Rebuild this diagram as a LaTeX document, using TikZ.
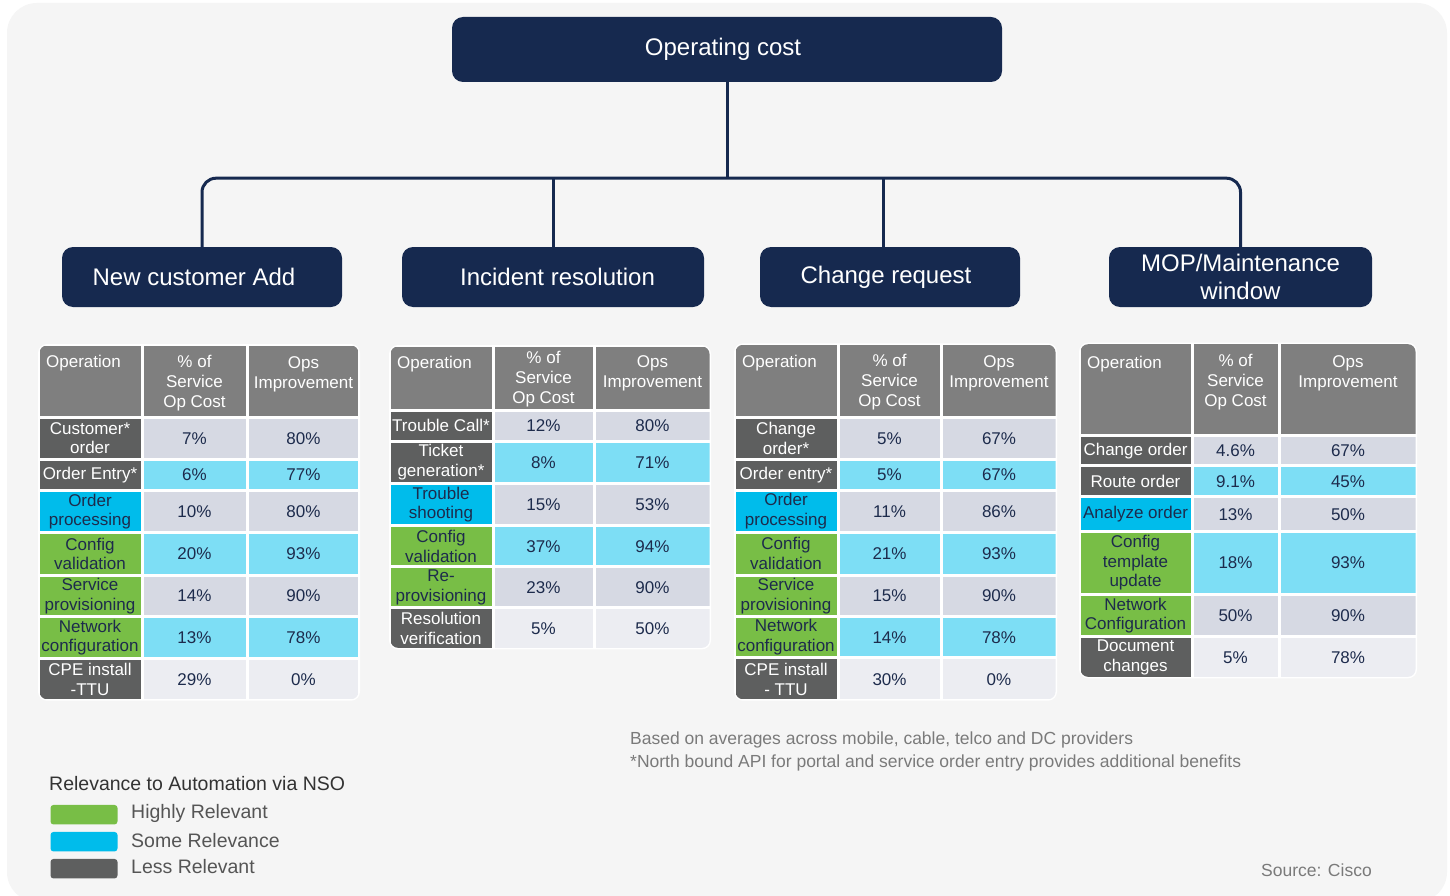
\documentclass[tikz,border=0pt]{standalone}
\usepackage{fontspec}
\setmainfont{Liberation Sans}
\usetikzlibrary{calc}
\definecolor{navy}{HTML}{16294F}
\definecolor{hgray}{HTML}{7F7F7F}
\definecolor{dgray}{HTML}{5E5F5F}
\definecolor{cblue}{HTML}{00BCEB}
\definecolor{cgreen}{HTML}{78BE46}
\definecolor{dgb}{HTML}{D6D9E3}
\definecolor{dcy}{HTML}{7DDEF5}
\definecolor{dlt}{HTML}{ECEDF2}
\definecolor{ntext}{HTML}{1D2B4C}
\definecolor{bgpanel}{HTML}{F5F5F5}
\definecolor{legtxt}{HTML}{333333}
\definecolor{leglab}{HTML}{555555}
\definecolor{notetxt}{HTML}{7A7A7A}
\newcommand{\tabfont}{\fontsize{17}{19.5}\selectfont}
\newcommand{\hfont}{\fontsize{17}{20}\selectfont}
% row: name, ya, yb, opstyle, optext, datafill, v1, v2
\newcommand{\trow}[8]{%
  \node[cellbox, #4, minimum width={\tXb-\tXa-3}, minimum height={#3-#2-3}] (#1op) at ({(\tXa+\tXb)/2},{(#2+#3)/2}) {#5};
  \node[cellbox, text=ntext, fill=#6, minimum width={\tXc-\tXb-3}, minimum height={#3-#2-3}] (#1a) at ({(\tXb+\tXc)/2},{(#2+#3)/2}) {#7};
  \node[cellbox, text=ntext, fill=#6, minimum width={\tXd-\tXc-3}, minimum height={#3-#2-3}] (#1b) at ({(\tXc+\tXd)/2},{(#2+#3)/2}) {#8};
}
% header: name, ya, yb, op offset, pct offset, ops offset
\newcommand{\thead}[6]{%
  \node[cellbox, fill=hgray, minimum width={\tXb-\tXa-3}, minimum height={#3-#2-3}] (#1op) at ({(\tXa+\tXb)/2},{(#2+#3)/2}) {};
  \node[cellbox, fill=hgray, minimum width={\tXc-\tXb-3}, minimum height={#3-#2-3}] (#1a) at ({(\tXb+\tXc)/2},{(#2+#3)/2}) {};
  \node[cellbox, fill=hgray, minimum width={\tXd-\tXc-3}, minimum height={#3-#2-3}] (#1b) at ({(\tXc+\tXd)/2},{(#2+#3)/2}) {};
  \node[htext, anchor=north west] (#1opt) at ({\tXa+8},{#2+#4}) {Operation};
  \node[htext, anchor=north] (#1at) at ({(\tXb+\tXc)/2},{#2+#5}) {\% of\\Service\\Op Cost};
  \node[htext, anchor=north] (#1bt) at ({(\tXc+\tXd)/2},{#2+#6}) {Ops\\Improvement};
}
\begin{document}
\begin{tikzpicture}[x=1pt,y=-1pt,
  topbox/.style={rectangle, rounded corners=11, fill=navy, text=white, inner sep=0, align=center, font=\fontsize{24}{28}\selectfont},
  conn/.style={draw=navy, line width=3pt},
  cellbox/.style={rectangle, inner sep=0, align=center, font=\tabfont},
  htext/.style={inner sep=0, align=center, font=\hfont, text=white},
  opless/.style={fill=dgray, text=white},
  opsome/.style={fill=cblue, text=ntext},
  ophigh/.style={fill=cgreen, text=ntext},
  swatch/.style={rectangle, rounded corners=3, inner sep=0, minimum width=67, minimum height=19.5},
  leglabel/.style={anchor=west, inner sep=0, text=leglab, font=\fontsize{19.5}{22}\selectfont},
  note/.style={anchor=west, inner sep=0, text=notetxt, font=\fontsize{17.5}{20}\selectfont}
]
\useasboundingbox (0,0) rectangle (1450,896);
\fill[white] (0,0) rectangle (1450,896);
\fill[bgpanel, rounded corners=30] (7,3) rectangle (1447,902);

% top level boxes
\node[topbox, minimum width=550, minimum height=65] (root) at (727,49.5) {Operating cost\hspace*{8pt}};
\node[topbox, minimum width=280, minimum height=60] (c1) at (202,277) {New customer Add\hspace*{16pt}};
\node[topbox, minimum width=302, minimum height=60] (c2) at (553,277) {\hspace*{9pt}Incident resolution};
\node[topbox, minimum width=260, minimum height=60] (c3) at (890,277) {Change request\hspace*{8pt}};
\node[topbox, minimum width=263, minimum height=60] (c4) at (1240.5,277) {MOP/Maintenance\\window};

% connectors
\draw[conn] (root.south) -- ++(0,96) coordinate (hub);
\draw[conn, rounded corners=14] (c1.north) |- (hub) -| (c4.north);
\draw[conn] (c2.north) -- (c2.north |- hub);
\draw[conn] ([xshift=-7pt]c3.north) -- ([xshift=-7pt]c3.north |- hub);

% ---------- Table 1 ----------
\def\tXa{38}\def\tXb{142}\def\tXc{247}\def\tXd{360}
\fill[white, rounded corners=9] (38,344) rectangle (360,700.7);
\begin{scope}
\clip[rounded corners=7.5] (39.5,345.5) rectangle (358.5,699.2);
\thead{ta}{344}{417}{11}{11}{12}
\trow{taa}{417}{459.3}{opless}{Customer*\\order}{dgb}{7\%}{80\%}
\trow{tab}{459.3}{490.7}{opless}{Order Entry*}{dcy}{6\%}{77\%}
\trow{tac}{490.7}{532.7}{opsome}{Order\\processing}{dgb}{10\%}{80\%}
\trow{tad}{532.7}{575.3}{ophigh}{Config\\validation}{dcy}{20\%}{93\%}
\trow{tae}{575.3}{616.7}{ophigh}{Service\\provisioning}{dgb}{14\%}{90\%}
\trow{taf}{616.7}{658.3}{ophigh}{Network\\configuration}{dcy}{13\%}{78\%}
\trow{tag}{658.3}{700.7}{opless}{CPE install\\-TTU}{dlt}{29\%}{0\%}
\end{scope}

% ---------- Table 2 ----------
\def\tXa{389}\def\tXb{493}\def\tXc{594}\def\tXd{711}
\fill[white, rounded corners=9] (389,345) rectangle (711,649.3);
\begin{scope}
\clip[rounded corners=7.5] (390.5,346.5) rectangle (709.5,647.8);
\thead{tb}{345}{410.7}{11}{6}{10}
\trow{tba}{410.7}{441}{opless}{Trouble Call*}{dgb}{12\%}{80\%}
\trow{tbb}{441}{483.3}{opless}{Ticket\\generation*}{dcy}{8\%}{71\%}
\trow{tbc}{483.3}{525.7}{opsome}{Trouble\\shooting}{dgb}{15\%}{53\%}
\trow{tbd}{525.7}{566.7}{ophigh}{Config\\validation}{dcy}{37\%}{94\%}
\trow{tbe}{566.7}{607.7}{ophigh}{Re-\\provisioning}{dgb}{23\%}{90\%}
\trow{tbf}{607.7}{649.3}{opless}{Resolution\\verification}{dlt}{5\%}{50\%}
\end{scope}

% ---------- Table 3 ----------
\def\tXa{734}\def\tXb{838}\def\tXc{941}\def\tXd{1057}
\fill[white, rounded corners=9] (734,343.3) rectangle (1057,700.7);
\begin{scope}
\clip[rounded corners=7.5] (735.5,344.8) rectangle (1055.5,699.2);
\thead{tc}{343.3}{417.3}{12}{11}{12}
\trow{tca}{417.3}{459.3}{opless}{Change\\order*}{dgb}{5\%}{67\%}
\trow{tcb}{459.3}{490}{opless}{Order entry*}{dcy}{5\%}{67\%}
\trow{tcc}{490}{532.3}{opsome}{Order\\processing}{dgb}{11\%}{86\%}
\trow{tcd}{532.3}{575}{ophigh}{Config\\validation}{dcy}{21\%}{93\%}
\trow{tce}{575}{616.7}{ophigh}{Service\\provisioning}{dgb}{15\%}{90\%}
\trow{tcf}{616.7}{657.7}{ophigh}{Network\\configuration}{dcy}{14\%}{78\%}
\trow{tcg}{657.7}{700.7}{opless}{CPE install\\- TTU}{dlt}{30\%}{0\%}
\end{scope}

% ---------- Table 4 ----------
\def\tXa{1079}\def\tXb{1192}\def\tXc{1279}\def\tXd{1417}
\fill[white, rounded corners=9] (1079,342.7) rectangle (1417,678.3);
\begin{scope}
\clip[rounded corners=7.5] (1080.5,344.2) rectangle (1415.5,676.8);
\thead{td}{342.7}{435.7}{13}{11}{13}
\trow{tda}{435.7}{465.7}{opless}{Change order}{dgb}{4.6\%}{67\%}
\trow{tdb}{465.7}{496.7}{opless}{Route order}{dcy}{9.1\%}{45\%}
\trow{tdc}{496.7}{531.7}{opsome}{Analyze order}{dgb}{13\%}{50\%}
\trow{tdd}{531.7}{594}{ophigh}{Config\\template\\update}{dcy}{18\%}{93\%}
\trow{tde}{594}{636.7}{ophigh}{Network\\Configuration}{dgb}{50\%}{90\%}
\trow{tdf}{636.7}{678.3}{opless}{Document\\changes}{dlt}{5\%}{78\%}
\end{scope}

% notes
\node[note] (note1) at (630,740) {Based on averages across mobile, cable, telco and DC providers};
\node[note] (note2) at (630,763) {*North bound API for portal and service order entry provides additional benefits};
\node[note] (source) at (1261,870) {Source: Cisco};

% legend
\node[anchor=west, inner sep=0, text=legtxt, font=\fontsize{19.5}{22}\selectfont] (legtitle) at (49,784) {Relevance to Automation via NSO};
\node[swatch, fill=cgreen] (sw1) at (84,814.7) {};
\node[swatch, fill=cblue] (sw2) at (84,841.7) {};
\node[swatch, fill=dgray] (sw3) at (84,868.7) {};
\node[leglabel] (lab1) at (131,813) {Highly Relevant};
\node[leglabel] (lab2) at (131,841) {Some Relevance};
\node[leglabel] (lab3) at (131,867) {Less Relevant};
\end{tikzpicture}
\end{document}
